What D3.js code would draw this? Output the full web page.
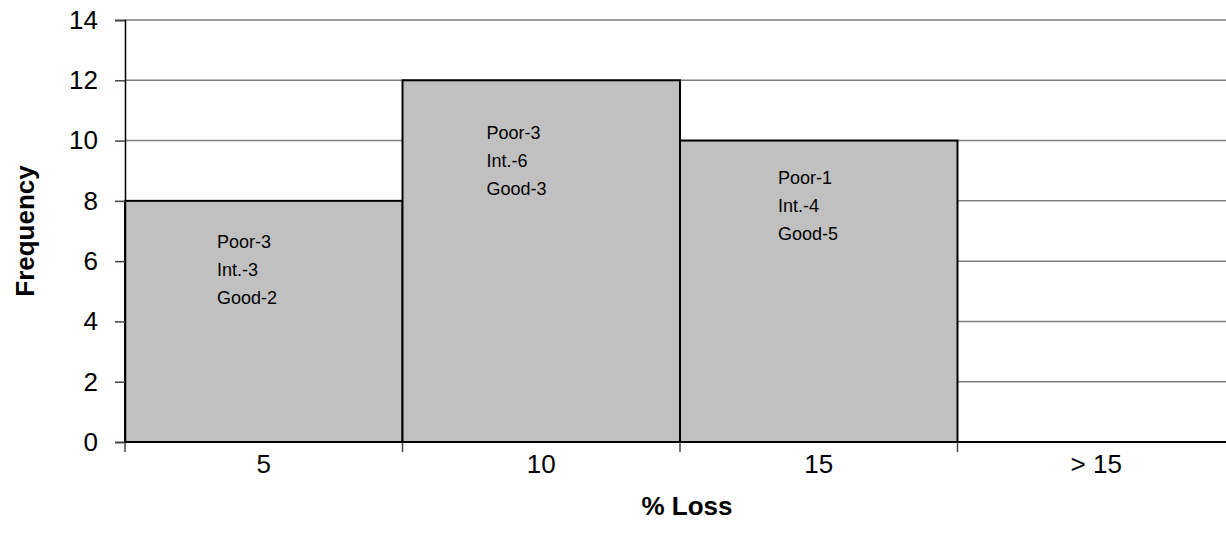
<!DOCTYPE html>
<html><head><meta charset="utf-8">
<script src="https://cdn.jsdelivr.net/npm/d3@7"></script>
<style>
html,body{margin:0;padding:0;background:#fff;overflow:hidden;}
text{font-family:"Liberation Sans",Arial,sans-serif;}
</style></head>
<body>
<svg id="chart" width="1226" height="543"></svg>
<script>
const categories = ["5", "10", "15", "> 15"];
const frequency = [8, 12, 10, 0];
const yTicks = [0, 2, 4, 6, 8, 10, 12, 14];
const poor = [3, 3, 1];
const intermediate = [3, 6, 4];
const good = [2, 3, 5];
// annotation top line position (data units on the y scale) and x offset within band
const noteY = [6.64, 10.25, 8.76];
const noteDx = [92, 84, 98];

const margin = {left: 125, top: 20, bottom: 101};
const plotRight = 1235;
const svg = d3.select("#chart");

const x = d3.scaleBand().domain(categories).range([margin.left, plotRight]).padding(0);
const y = d3.scaleLinear().domain([0, 14]).range([442, 20]);

// gridlines
svg.append("g").selectAll("line").data(yTicks.filter(d => d > 0)).join("line")
  .attr("x1", margin.left).attr("x2", plotRight)
  .attr("y1", d => y(d)).attr("y2", d => y(d))
  .attr("stroke", "#808080").attr("stroke-width", 1.5);

// bars
svg.append("g").selectAll("rect").data(categories.map((c, i) => ({c, v: frequency[i]})).filter(d => d.v > 0)).join("rect")
  .attr("x", d => x(d.c)).attr("width", x.bandwidth())
  .attr("y", d => y(d.v)).attr("height", d => y(0) - y(d.v))
  .attr("fill", "#c0c0c0").attr("stroke", "#000").attr("stroke-width", 2);

// y axis
const yAxis = svg.append("g").attr("transform", `translate(${margin.left},0)`)
  .call(d3.axisLeft(y).tickValues(yTicks).tickSize(10).tickPadding(17).tickFormat(d3.format("d")));
yAxis.select(".domain").attr("stroke", "#000").attr("stroke-width", 1.5);
yAxis.selectAll(".tick line").attr("stroke", "#444").attr("stroke-width", 1.5);
yAxis.selectAll(".tick text").attr("font-size", 26).attr("fill", "#000")
  .style("font-family", "'Liberation Sans', Arial, sans-serif");

// x axis
const xAxis = svg.append("g").attr("transform", `translate(0,${y(0)})`)
  .call(d3.axisBottom(x).tickSize(0).tickPadding(13));
xAxis.select(".domain").remove();
xAxis.selectAll(".tick text").attr("font-size", 26).attr("fill", "#000")
  .style("font-family", "'Liberation Sans', Arial, sans-serif");
svg.append("line").attr("x1", margin.left).attr("x2", plotRight)
  .attr("y1", y(0)).attr("y2", y(0)).attr("stroke", "#000").attr("stroke-width", 2);
// boundary ticks
const bounds = categories.map(c => x(c)).concat([x(categories[categories.length-1]) + x.bandwidth()]);
svg.append("g").selectAll("line").data(bounds).join("line")
  .attr("x1", d => d).attr("x2", d => d)
  .attr("y1", y(0)).attr("y2", y(0) + 10)
  .attr("stroke", "#444").attr("stroke-width", 1.5);

// annotations
const notes = poor.map((p, i) => [`Poor-${p}`, `Int.-${intermediate[i]}`, `Good-${good[i]}`]);
notes.forEach((lines, i) => {
  const t = svg.append("text")
    .attr("x", x(categories[i]) + noteDx[i])
    .attr("y", y(noteY[i]))
    .attr("font-size", 18).attr("fill", "#000")
    .attr("dominant-baseline", "central");
  lines.forEach((l, j) => t.append("tspan").attr("x", x(categories[i]) + noteDx[i]).attr("dy", j === 0 ? 0 : 28).text(l));
});

// axis titles
svg.append("text").attr("x", 687).attr("y", 506)
  .attr("text-anchor", "middle").attr("dominant-baseline", "central")
  .attr("font-size", 26).attr("font-weight", "bold").text("% Loss");
svg.append("text").attr("transform", "translate(25,231) rotate(-90)")
  .attr("text-anchor", "middle").attr("dominant-baseline", "central")
  .attr("font-size", 26).attr("font-weight", "bold").text("Frequency");
</script>
</body></html>
